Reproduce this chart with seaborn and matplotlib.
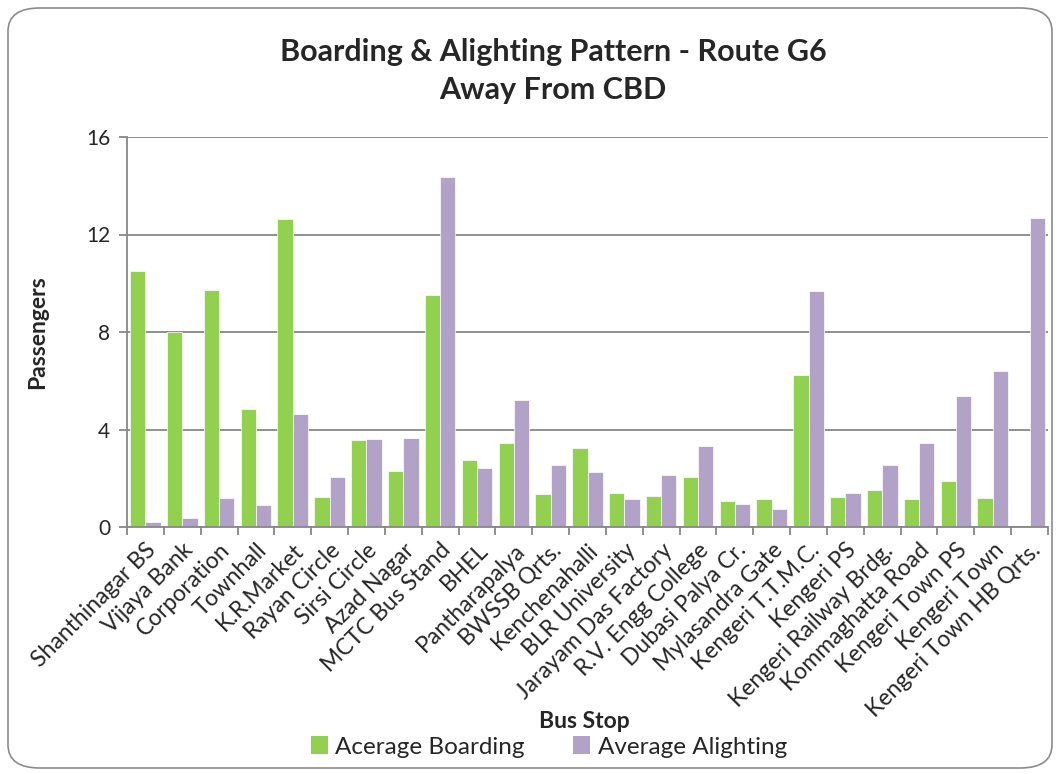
import matplotlib
matplotlib.use("Agg")
import matplotlib.pyplot as plt
import seaborn as sns
import pandas as pd
import numpy as np
from matplotlib.patches import FancyBboxPatch, Patch
from matplotlib.ticker import FixedLocator

stops = ["Shanthinagar BS", "Vijaya Bank", "Corporation", "Townhall", "K.R.Market",
         "Rayan Circle", "Sirsi Circle", "Azad Nagar", "MCTC Bus Stand", "BHEL",
         "Pantharapalya", "BWSSB Qrts.", "Kenchenahalli", "BLR University",
         "Jarayam Das Factory", "R.V. Engg College", "Dubasi Palya Cr.",
         "Mylasandra Gate", "Kengeri T.T.M.C.", "Kengeri PS", "Kengeri Railway Brdg.",
         "Kommaghatta Road", "Kengeri Town PS", "Kengeri Town", "Kengeri Town HB Qrts."]
boarding = [10.49, 8.02, 9.73, 4.86, 12.65, 1.22, 3.56, 2.31, 9.53, 2.76,
            3.43, 1.34, 3.26, 1.38, 1.26, 2.07, 1.05, 1.14, 6.24, 1.22,
            1.53, 1.14, 1.89, 1.18, 0.0]
alighting = [0.22, 0.36, 1.18, 0.89, 4.65, 2.07, 3.60, 3.65, 14.36, 2.43,
             5.23, 2.56, 2.27, 1.14, 2.15, 3.31, 0.93, 0.73, 9.70, 1.38,
             2.56, 3.43, 5.39, 6.39, 12.69]
series_names = ["Acerage Boarding", "Average Alighting"]
colors = ["#92D050", "#B3A2C7"]
yticks = [0, 4, 8, 12, 16]

df = pd.DataFrame({
    "Bus Stop": stops * 2,
    "Passengers": boarding + alighting,
    "Series": [series_names[0]] * len(stops) + [series_names[1]] * len(stops),
})

sns.set_theme(style="white")
plt.rcParams['font.family'] = ['Lato', 'DejaVu Sans']

fig = plt.figure(figsize=(10.6, 7.74), dpi=100)
ax = fig.add_axes([127/1060, 1 - 527/774, (1048-127)/1060, (527-137)/774])

sns.barplot(data=df, x="Bus Stop", y="Passengers", hue="Series",
            palette=colors, saturation=1, width=0.83, ax=ax,
            edgecolor="white", linewidth=0.5, errorbar=None)

n = len(stops)
ax.set_xlim(-0.5, n - 0.5)
ax.set_ylim(0, 16)
ax.set_yticks(yticks)
ax.set_yticklabels([str(t) for t in yticks], fontsize=15)
ax.yaxis.grid(True, color="#878787", linewidth=1.3)
ax.set_axisbelow(True)
for s in ["top", "right"]:
    ax.spines[s].set_visible(False)
for s in ["left", "bottom"]:
    ax.spines[s].set_color("#878787")
    ax.spines[s].set_linewidth(1.3)

ax.set_xticks(range(n))
ax.set_xticklabels(stops, rotation=45, ha="right", rotation_mode="anchor", fontsize=16.5)
ax.xaxis.set_minor_locator(FixedLocator(np.arange(-0.5, n, 1.0)))
ax.tick_params(axis="x", which="major", length=0, pad=9)
ax.tick_params(axis="x", which="minor", length=6, color="#878787", width=1.3, bottom=True)
ax.tick_params(axis="y", which="major", length=6, color="#878787", width=1.3, left=True, pad=6)

ax.set_xlabel("Bus Stop", fontsize=16.5, fontweight="bold")
ax.xaxis.set_label_coords((584-127)/(1048-127), -(722-527)/(527-137))
ax.xaxis.label.set_va("center")
ax.set_ylabel("Passengers", fontsize=16.5, fontweight="bold")
ax.yaxis.set_label_coords(-(127-38)/(1048-127), 0.5)
ax.yaxis.label.set_va("center")

fig.text(553/1060, 1 - 52/774, "Boarding & Alighting Pattern - Route G6",
         ha="center", va="center", fontsize=22, fontweight="bold")
fig.text(553/1060, 1 - 90/774, "Away From CBD",
         ha="center", va="center", fontsize=22, fontweight="bold")

ax.legend_.remove()
handles = [Patch(facecolor=c, edgecolor="none") for c in colors]
fig.legend(handles, series_names, loc="center", bbox_to_anchor=(549/1060, 1 - 747/774),
           ncol=2, frameon=False, fontsize=17.5, handlelength=0.7, handleheight=0.7,
           handletextpad=0.3, columnspacing=2.0, borderpad=0)

border = FancyBboxPatch((8/1060, 6/774), 1044/1060, 760/774,
                        boxstyle="round,pad=0,rounding_size=0.03",
                        transform=fig.transFigure, facecolor="none",
                        edgecolor="#8c8c8c", linewidth=1.2)
fig.patches.append(border)

fig.savefig("out.png", dpi=100)
